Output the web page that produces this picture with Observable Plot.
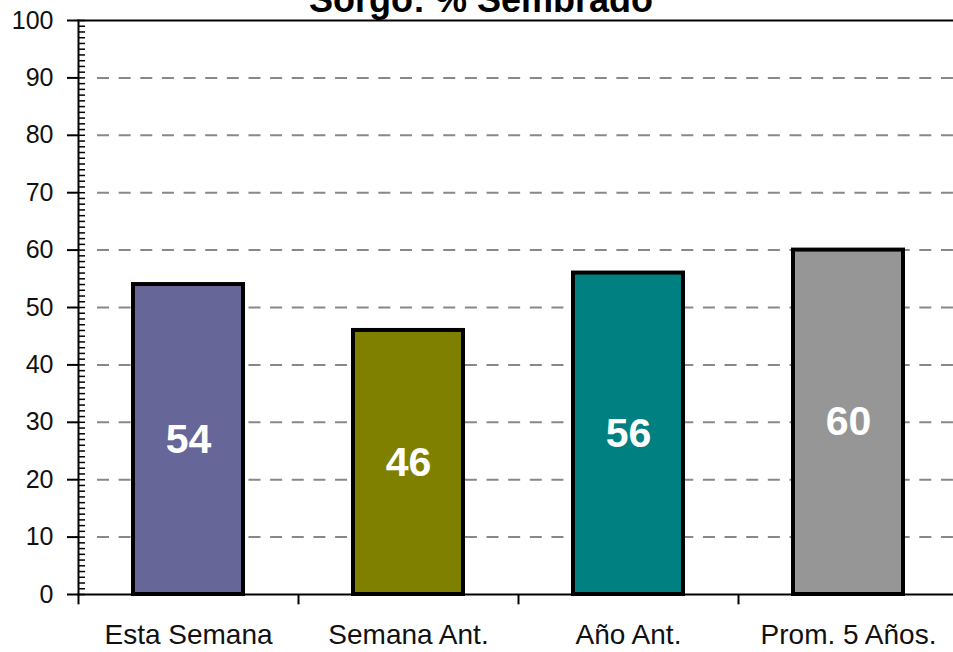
<!DOCTYPE html>
<html>
<head>
<meta charset="utf-8">
<script src="https://cdn.jsdelivr.net/npm/d3@7"></script>
<script src="https://cdn.jsdelivr.net/npm/@observablehq/plot@0.6"></script>
<style>
  html, body { margin: 0; padding: 0; background: #fff; overflow: hidden; }
  #wrap { position: relative; width: 953px; height: 652px; }
  #title { position: absolute; left: 0; width: 962px; top: -18px; text-align: center;
    font-family: "Liberation Sans", Arial, sans-serif; font-weight: bold; font-size: 36px;
    line-height: 36px; color: #000; }
  svg { display: block; }
</style>
</head>
<body>
<div id="wrap">
  <div id="chart"></div>
  <div id="title">Sorgo: % Sembrado</div>
</div>
<script>
const categories = ["Esta Semana", "Semana Ant.", "Año Ant.", "Prom. 5 Años."];
const values = [54, 46, 56, 60];
const colors = ["#666699", "#808000", "#008080", "#969696"];
const majorTicks = [0, 10, 20, 30, 40, 50, 60, 70, 80, 90, 100];
const gridLines = [10, 20, 30, 40, 50, 60, 70, 80, 90];
const minorTicks = d3.range(0, 101, 1);

const data = categories.map((c, i) => ({cat: c, value: values[i], color: colors[i]}));
const font = "'Liberation Sans', Arial, sans-serif";

const chart = Plot.plot({
  width: 953,
  height: 652,
  marginTop: 20,
  marginBottom: 58,
  marginLeft: 78,
  marginRight: 0,
  style: {fontFamily: font, background: "#fff", color: "#111"},
  x: {domain: categories, range: [78, 958], paddingInner: 0.5, paddingOuter: 0.25, axis: null, label: null},
  y: {domain: [0, 100], range: [594, 20], axis: null, label: null},
  marks: [
    Plot.ruleY(gridLines, {stroke: "#888", strokeWidth: 2, strokeDasharray: "12,9.64", insetLeft: 19}),
    Plot.barY(data, {x: "cat", y: "value", fill: "color", stroke: "#000", strokeWidth: 4}),
    Plot.text(data, {x: "cat", y: d => d.value / 2, text: d => String(d.value), fill: "#fff",
      fontWeight: "bold", fontSize: 41}),
    Plot.axisY({ticks: minorTicks, tickSize: -7, tickFormat: () => "", label: null, stroke: "#000", strokeWidth: 1.5}),
    Plot.axisY({ticks: majorTicks, tickSize: 11, tickPadding: 14, fontSize: 25, label: null, stroke: "#000", strokeWidth: 2, fill: "#111"}),
    Plot.ruleX(categories, {x: d => d, y1: 0, y2: -1.8, dx: -110, stroke: "#000", strokeWidth: 2}),
    Plot.axisX({tickSize: 0, tickPadding: 30, fontSize: 28, label: null, fill: "#111"}),
    Plot.frame({anchor: "left", stroke: "#000", strokeWidth: 2}),
    Plot.frame({anchor: "bottom", stroke: "#000", strokeWidth: 2}),
    Plot.frame({anchor: "top", stroke: "#000", strokeWidth: 2})
  ]
});
document.getElementById("chart").appendChild(chart);
</script>
</body>
</html>
